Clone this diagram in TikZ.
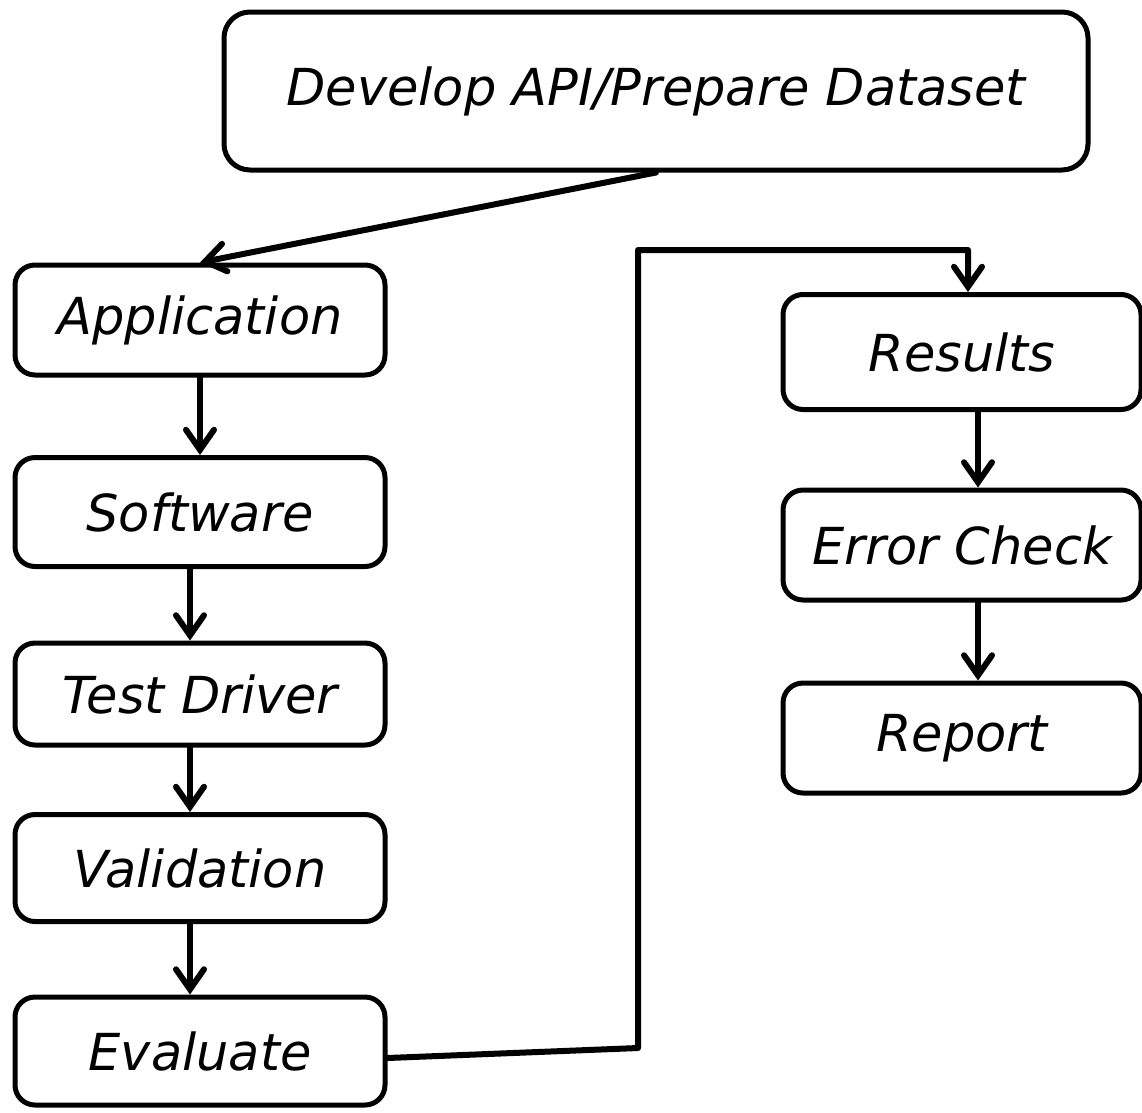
\documentclass[tikz,border=0pt]{standalone}
\usepackage{fontspec}
\setmainfont{DejaVu Sans}
\usetikzlibrary{arrows.meta}

\begin{document}
\begin{tikzpicture}[x=1pt,y=-1pt,
  stepbox/.style={draw,line width=5pt,rounded corners=20pt,minimum width=370pt,
    inner sep=0pt,font=\fontsize{51}{60}\selectfont\itshape},
  flow/.style={line width=6pt,line cap=round,line join=round,
    -{Straight Barb[length=20pt,width=28pt,line cap=round]}}]
\useasboundingbox (0,0) rectangle (1142,1112);
\node[stepbox,minimum width=864pt,minimum height=158pt,rounded corners=26pt] (dev) at (656,91) {Develop API/Prepare Dataset};
\node[stepbox,minimum height=110pt] (app) at (200,320) {Application};
\node[stepbox,minimum height=109pt] (soft) at (200,512) {Software};
\node[stepbox,minimum height=102pt] (drv) at (200,694) {Test Driver};
\node[stepbox,minimum height=107pt] (val) at (200,868) {Validation};
\node[stepbox,minimum height=108pt] (eval) at (200,1051) {Evaluate};
\node[stepbox,minimum width=358pt,minimum height=115pt] (res) at (962,352) {Results};
\node[stepbox,minimum width=358pt,minimum height=110pt] (err) at (962,545) {Error Check};
\node[stepbox,minimum width=358pt,minimum height=110pt] (rep) at (962,738) {Report};
\coordinate (bendlow) at (638,1048);
\coordinate (bendtop) at (638,250);
\draw[flow] (dev.south) -- (app.north);
\draw[flow] (app.south) -- (soft.north);
\draw[flow] ([xshift=-10pt]soft.south) -- ([xshift=-10pt]drv.north);
\draw[flow] ([xshift=-10pt]drv.south) -- ([xshift=-10pt]val.north);
\draw[flow] ([xshift=-10pt]val.south) -- ([xshift=-10pt]eval.north);
\draw[flow] ([yshift=-7pt]eval.east) -- (bendlow) -- (bendtop) -| ([xshift=6pt]res.north);
\draw[flow] ([xshift=16pt]res.south) -- ([xshift=16pt]err.north);
\draw[flow] ([xshift=16pt]err.south) -- ([xshift=16pt]rep.north);
\end{tikzpicture}
\end{document}
